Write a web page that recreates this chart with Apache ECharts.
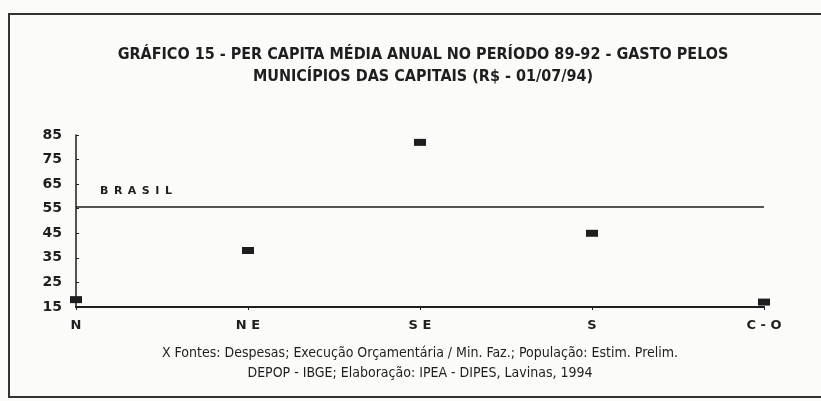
<!DOCTYPE html>
<html>
<head>
<meta charset="utf-8">
<script src="https://cdn.jsdelivr.net/npm/echarts@6/dist/echarts.min.js"></script>
<style>
  html, body { margin: 0; padding: 0; background: #fbfbf9; }
  #chart { width: 821px; height: 401px; }
</style>
</head>
<body>
<div id="chart"></div>
<script>
// regiões e gasto per capita médio (R$ de 01/07/94)
var categories = ['N', 'N E', 'S E', 'S', 'C - O']
var gastoPerCapita = [18, 38, 82, 45, 17]
var brasil = 56
var yMin = 15
var yMax = 85
var yStep = 10

var ink = '#1e1e1e'
var narrow = '"DejaVu Sans Condensed", "Liberation Sans", sans-serif'

var chart = echarts.init(document.getElementById('chart'))

chart.setOption({
  backgroundColor: '#fbfbf9',
  animation: false,
  title: [
    {
      text: 'GRÁFICO 15 - PER CAPITA MÉDIA ANUAL NO PERÍODO 89-92 - GASTO PELOS\nMUNICÍPIOS DAS CAPITAIS (R$ - 01/07/94)',
      left: 418,
      textAlign: 'center',
      top: 39,
      textStyle: {
        fontFamily: narrow,
        fontWeight: 'bold',
        fontSize: 16,
        lineHeight: 22,
        color: ink
      }
    },
    {
      text: 'X Fontes: Despesas; Execução Orçamentária / Min. Faz.; População: Estim. Prelim.\nDEPOP - IBGE; Elaboração: IPEA - DIPES, Lavinas, 1994',
      left: 415,
      textAlign: 'center',
      top: 338,
      textStyle: {
        fontFamily: narrow,
        fontWeight: 'normal',
        fontSize: 14,
        lineHeight: 20,
        color: ink
      }
    }
  ],
  graphic: [
    {
      type: 'rect',
      shape: { x: 9, y: 14, width: 900, height: 383 },
      style: { fill: 'none', stroke: '#333', lineWidth: 2 },
      silent: true
    }
  ],
  grid: { left: 76, right: 57, top: 135, bottom: 94 },
  xAxis: {
    type: 'category',
    data: categories,
    boundaryGap: false,
    axisLine: { lineStyle: { color: ink, width: 2 } },
    axisTick: { show: true, alignWithLabel: true, length: 3, lineStyle: { color: ink } },
    axisLabel: {
      margin: 12,
      fontFamily: 'DejaVu Sans',
      fontWeight: 'bold',
      fontSize: 13,
      color: ink
    },
    splitLine: { show: false }
  },
  yAxis: {
    type: 'value',
    min: yMin,
    max: yMax,
    interval: yStep,
    axisLine: { show: true, lineStyle: { color: ink, width: 1.5 } },
    axisTick: { show: true, inside: true, length: 3, lineStyle: { color: ink } },
    axisLabel: {
      margin: 14,
      fontFamily: 'DejaVu Sans',
      fontWeight: 'bold',
      fontSize: 14,
      color: ink
    },
    splitLine: { show: false }
  },
  series: [
    {
      type: 'scatter',
      data: gastoPerCapita,
      symbol: 'rect',
      symbolSize: [12, 7],
      itemStyle: { color: ink, opacity: 1 },
      markLine: {
        silent: true,
        symbol: ['none', 'none'],
        lineStyle: { color: ink, type: 'solid', width: 1.5 },
        label: {
          position: 'insideStartTop',
          distance: [24, 10],
          formatter: 'B\u2002R\u2002A\u2002S\u2002I\u2002L',
          fontFamily: 'DejaVu Sans',
          fontWeight: 'bold',
          fontSize: 11,
          color: ink
        },
        data: [{ yAxis: brasil }]
      }
    }
  ]
})
</script>
</body>
</html>
